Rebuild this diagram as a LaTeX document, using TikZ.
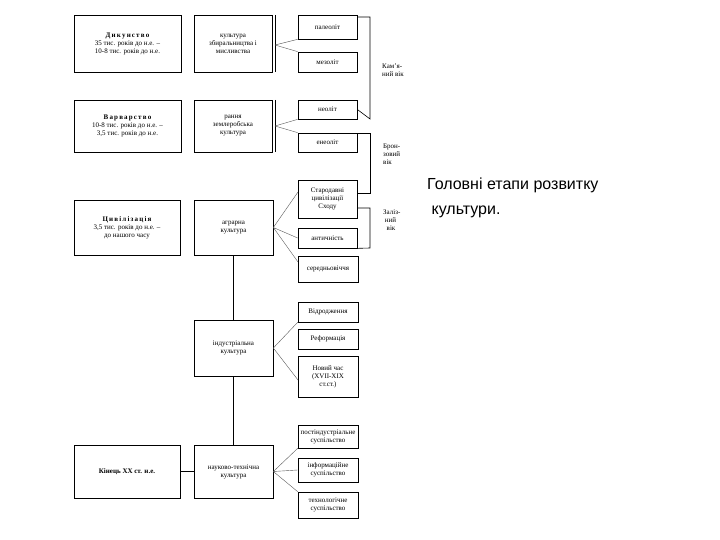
\documentclass[tikz,border=0pt]{standalone}
\usepackage{fontspec}
\setmainfont{Liberation Serif}
\newfontfamily\headfont{Liberation Sans}
\begin{document}
\begin{tikzpicture}[x=1pt,y=-1pt,
  bx/.style={draw,line width=0.7pt,inner sep=1pt,align=center,font=\fontsize{7}{8}\selectfont},
  lbl/.style={inner sep=0pt,align=left,font=\fontsize{7}{8}\selectfont,anchor=north west},
  ln/.style={line width=0.6pt},
  tn/.style={line width=0.4pt,gray!70!black}]
\useasboundingbox (0,0) rectangle (720,540);
\newcommand{\bxat}[6]{\node[bx,minimum width=#4-#2,minimum height=#5-#3] (#1) at ({(#2+#4)/2},{(#3+#5)/2}) {#6};}
% row 1
\bxat{l1}{74}{15}{181}{72}{\textbf{Д\,и\,к\,у\,н\,с\,т\,в\,о}\\35 тис. років до н.е. –\\10-8 тис. років до н.е.}
\bxat{m1}{194}{15}{272}{72}{культура\\збиральництва і\\мисливства}
\bxat{s1a}{298}{15}{357}{39}{палеоліт}
\bxat{s1b}{298}{52}{357}{72}{мезоліт}
% row 2
\bxat{l2}{74}{100}{181}{152}{\textbf{В\,а\,р\,в\,а\,р\,с\,т\,в\,о}\\10-8 тис. років до н.е. –\\3,5 тис. років до н.е.}
\bxat{m2}{194}{100}{272}{152}{рання\\землеробська\\культура}
\bxat{s2a}{298}{100}{357}{119}{неоліт}
\bxat{s2b}{298}{133}{357}{152}{енеоліт}
% row 3
\bxat{l3}{74}{200}{180}{255}{\textbf{Ц\,и\,в\,і\,л\,і\,з\,а\,ц\,і\,я}\\3,5 тис. років до н.е. –\\до нашого часу}
\bxat{m3}{194}{200}{273}{255}{аграрна\\культура}
\bxat{s3a}{298}{180}{357}{218}{Стародавні\\цивілізації\\Сходу}
\bxat{s3b}{298}{228}{357}{248}{античність}
\bxat{s3c}{298}{256}{358}{282}{середньовіччя}
% row 4
\bxat{m4}{194}{320}{273}{376}{індустріальна\\культура}
\bxat{s4a}{298}{302}{358}{322}{Відродження}
\bxat{s4b}{298}{329}{358}{349}{Реформація}
\bxat{s4c}{298}{356}{358}{397}{Новий час\\(XVII-XIX\\ст.ст.)}
% row 5
\bxat{l5}{74}{445}{180}{498}{\textbf{Кінець XX ст. н.е.}}
\bxat{m5}{194}{445}{273}{498}{науково-технічна\\культура}
\bxat{s5a}{298}{425}{358}{448}{постіндустріальне\\суспільство}
\bxat{s5b}{298}{458}{358}{482}{інформаційне\\суспільство}
\bxat{s5c}{298}{492}{358}{518}{технологічне\\суспільство}
% connectors
\coordinate (j1) at (275,45);
\draw[ln] (275,15) -- (275,72);
\draw[tn] (j1) -- (s1a.south west) (j1) -- (s1b.north west);
\coordinate (j2) at (275,126);
\draw[ln] (275,100) -- (275,152);
\draw[tn] (j2) -- (s2a.south west) (j2) -- (s2b.north west);
\draw[tn] (m3.east) -- (298,192) (m3.east) -- (s3b.west) (m3.east) -- (298,262);
\draw[tn] (m4.east) -- (s4a.south west) (m4.east) -- (298,380);
\draw[tn] (m5.east) -- (s5a.south west) (m5.east) -- (s5b.west) (m5.east) -- (s5c.north west);
\draw[ln] (m3.south) -- (m4.north);
\draw[ln] (m4.south) -- (m5.north);
\draw[ln] (l5.east) -- (m5.west);
% age brackets
\draw[ln] (357,17) -- (370,17) -- (370,119) -- (s2a.east);
\draw[ln] (357,133) -- (370,133) -- (370,193) -- (357,193);
\draw[ln] (357,208) -- (370,208) -- (370,248) -- (s3b.south east);
\node[lbl] (a1) at (382,64) {Кам'я-\\ний вік};
\node[lbl] (a2) at (383,144) {Брон-\\зовий\\ вік};
\node[lbl] (a3) at (383,210) {Заліз-\\\ ний\\\ \ вік};
% title
\node[inner sep=0pt,anchor=north west,align=left,font=\headfont\fontsize{16}{25}\selectfont] (t) at (427,178) {Головні етапи розвитку\\\ культури.};
\end{tikzpicture}
\end{document}
